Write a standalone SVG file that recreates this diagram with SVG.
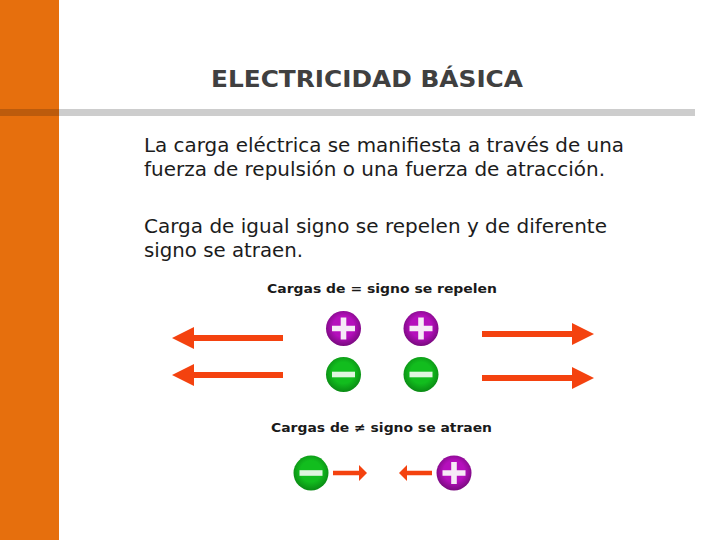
<svg xmlns="http://www.w3.org/2000/svg" width="720" height="540" viewBox="0 0 720 540">
<style>
.body{font-family:"DejaVu Sans","Liberation Sans",sans-serif;font-size:19px;fill:#1c1c1c}
.title{font-family:"DejaVu Sans","Liberation Sans",sans-serif;font-size:23.5px;font-weight:bold;fill:#404040}
.cap{font-family:"DejaVu Sans","Liberation Sans",sans-serif;font-size:12.5px;font-weight:bold;fill:#1a1a1a}
.arrow{fill:#f4420f}
.sign{fill:#f6eaf6}
</style>
<defs>
<radialGradient id="pur" cx="0.5" cy="0.45" r="0.55"><stop offset="0.55" stop-color="#b50fbc"/><stop offset="1" stop-color="#780a7e"/></radialGradient>
<radialGradient id="grn" cx="0.5" cy="0.45" r="0.55"><stop offset="0.55" stop-color="#12bd1e"/><stop offset="1" stop-color="#0a8a14"/></radialGradient>
<g id="plus"><circle r="17.5" fill="url(#pur)"/><path class="sign" d="M-11.500-2.800H-2.800V-11H2.800V-2.800H11.500V2.800H2.800V11H-2.800V2.800H-11.500Z"/></g>
<g id="minus"><circle r="17.5" fill="url(#grn)"/><rect x="-11.500" y="-2.800" width="23" height="5.600" fill="#e0f6e0"/></g>
</defs>
<rect x="0" y="0" width="59" height="540" fill="#e66f0d"/>
<rect x="0" y="109" width="59" height="7" fill="#bc5b0c"/>
<rect x="59" y="109" width="636" height="7" fill="#cdcdcd"/>
<text class="title" x="211" y="87" textLength="312" lengthAdjust="spacingAndGlyphs">ELECTRICIDAD BÁSICA</text>
<text class="body" x="144" y="152" textLength="480" lengthAdjust="spacingAndGlyphs">La carga eléctrica se manifiesta a través de una</text>
<text class="body" x="144" y="176" textLength="461" lengthAdjust="spacingAndGlyphs">fuerza de repulsión o una fuerza de atracción.</text>
<text class="body" x="144" y="233" textLength="463" lengthAdjust="spacingAndGlyphs">Carga de igual signo se repelen y de diferente</text>
<text class="body" x="144" y="257" textLength="159" lengthAdjust="spacingAndGlyphs">signo se atraen.</text>
<text class="cap" x="267" y="293" textLength="230" lengthAdjust="spacingAndGlyphs">Cargas de = signo se repelen</text>
<text class="cap" x="271" y="432" textLength="221" lengthAdjust="spacingAndGlyphs">Cargas de ≠ signo se atraen</text>
<g id="connectors">
<path class="arrow" d="M172 338L194 327V335H283V341H194V349Z"/>
<path class="arrow" d="M172 375L194 364V372H283V378H194V386Z"/>
<path class="arrow" d="M594 334L572 323V331H482V337H572V345Z"/>
<path class="arrow" d="M594 378L572 367V375H482V381H572V389Z"/>
<path class="arrow" d="M367 473L359 465V470.800H333V475.200H359V481Z"/>
<path class="arrow" d="M399 473L407 465V470.800H432V475.200H407V481Z"/>
</g>
<g id="n1"><use href="#plus" x="343.500" y="328.500"/></g>
<g id="n2"><use href="#plus" x="421" y="328.500"/></g>
<g id="n3"><use href="#minus" x="343.500" y="374.500"/></g>
<g id="n4"><use href="#minus" x="421" y="374.500"/></g>
<g id="n5"><use href="#minus" x="311" y="473"/></g>
<g id="n6"><use href="#plus" x="454" y="473"/></g>
</svg>
